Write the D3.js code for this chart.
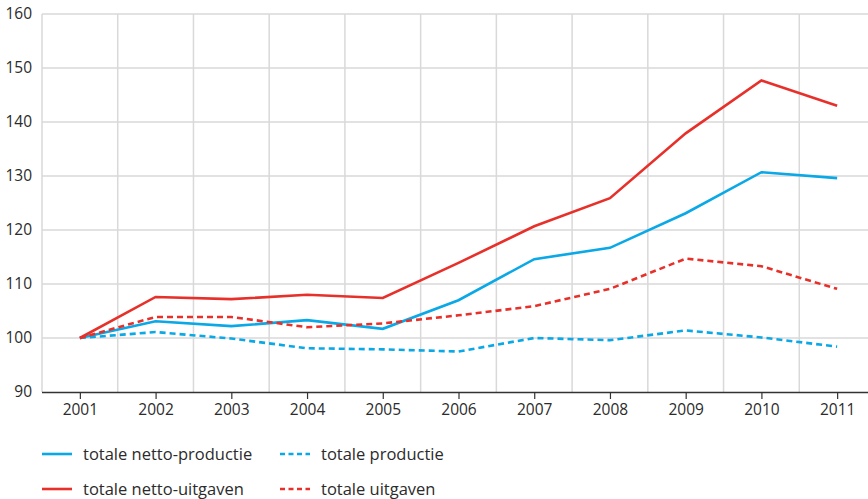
<!DOCTYPE html>
<html>
<head>
<meta charset="utf-8">
<script src="https://d3js.org/d3.v7.min.js"></script>
<style>
  body { margin: 0; background: #fff; }
  text { font-family: "Open Sans", Lato, sans-serif; fill: #2b2b2b; }
</style>
</head>
<body>
<div id="chart"></div>
<script>
// jaren en reeksen (index 2001 = 100)
const years = ["2001", "2002", "2003", "2004", "2005", "2006", "2007", "2008", "2009", "2010", "2011"];
const nettoProductie = [100, 103.1, 102.2, 103.3, 101.7, 107.0, 114.6, 116.7, 123.1, 130.7, 129.6];
const nettoUitgaven = [100, 107.6, 107.2, 108.0, 107.4, 113.9, 120.7, 125.9, 137.9, 147.7, 143.0];
const totaleProductie = [100, 101.1, 99.9, 98.1, 97.9, 97.5, 100.0, 99.6, 101.4, 100.1, 98.4];
const totaleUitgaven = [100, 103.9, 103.9, 102.0, 102.7, 104.2, 105.9, 109.1, 114.7, 113.3, 109.1];
const yTicks = [90, 100, 110, 120, 130, 140, 150, 160];

const blue = "#0aa8e6", red = "#e8302a";
const series = [
  { name: "totale netto-productie", values: nettoProductie, color: blue, dash: null },
  { name: "totale productie", values: totaleProductie, color: blue, dash: "6,4" },
  { name: "totale netto-uitgaven", values: nettoUitgaven, color: red, dash: null },
  { name: "totale uitgaven", values: totaleUitgaven, color: red, dash: "6,4" }
];

const width = 868, height = 499;
const svg = d3.select("#chart").append("svg")
  .attr("width", width).attr("height", height);

const x = d3.scaleBand().domain(years).range([42, 875]);
const xc = d => x(d) + x.bandwidth() / 2;
const y = d3.scaleLinear().domain([90, 160]).range([392, 14]);

// rasterlijnen
svg.append("g").selectAll("line.h")
  .data(yTicks.slice(1))
  .enter().append("line")
  .attr("x1", 42).attr("x2", width)
  .attr("y1", d => y(d)).attr("y2", d => y(d))
  .attr("stroke", "#d9d9d9").attr("stroke-width", 1.5);

svg.append("g").selectAll("line.v")
  .data(years)
  .enter().append("line")
  .attr("x1", d => x(d)).attr("x2", d => x(d))
  .attr("y1", y(160)).attr("y2", y(90))
  .attr("stroke", "#d9d9d9").attr("stroke-width", 1.5);

// y-labels
svg.append("g").selectAll("text")
  .data(yTicks)
  .enter().append("text")
  .attr("x", 32).attr("y", d => y(d) + 5)
  .attr("text-anchor", "end")
  .attr("font-size", "15.5px")
  .text(d => d);

// x-as
const xAxis = svg.append("g")
  .attr("transform", `translate(0, ${y(90)})`)
  .call(d3.axisBottom(d3.scalePoint().domain(years).range([xc("2001"), xc("2011")])).tickSize(7).tickPadding(5));
xAxis.select(".domain").attr("d", `M42,0.5H${width}`).attr("stroke", "#333").attr("stroke-width", 1.5);
xAxis.selectAll(".tick line").attr("stroke", "#333").attr("stroke-width", 1.2);
xAxis.selectAll(".tick text").attr("font-size", "15.5px").attr("fill", "#2b2b2b")
  .style("font-family", "'Open Sans', Lato, sans-serif");

// lijnen
const line = d3.line()
  .x((d, i) => xc(years[i]))
  .y(d => y(d));

series.forEach(s => {
  svg.append("path")
    .datum(s.values)
    .attr("fill", "none")
    .attr("stroke", s.color)
    .attr("stroke-width", 2.6)
    .attr("stroke-dasharray", s.dash)
    .attr("d", line);
});

// legenda
const legendPos = [[42, 454], [280, 454], [42, 489], [280, 489]];
series.forEach((s, i) => {
  const g = svg.append("g").attr("transform", `translate(${legendPos[i][0]}, ${legendPos[i][1]})`);
  g.append("line")
    .attr("x1", 0).attr("x2", 30)
    .attr("stroke", s.color).attr("stroke-width", 2.6)
    .attr("stroke-dasharray", s.dash ? "5,3.5" : null);
  g.append("text")
    .attr("x", 41).attr("y", 5.5)
    .attr("font-size", "16.5px")
    .text(s.name);
});
</script>
</body>
</html>
